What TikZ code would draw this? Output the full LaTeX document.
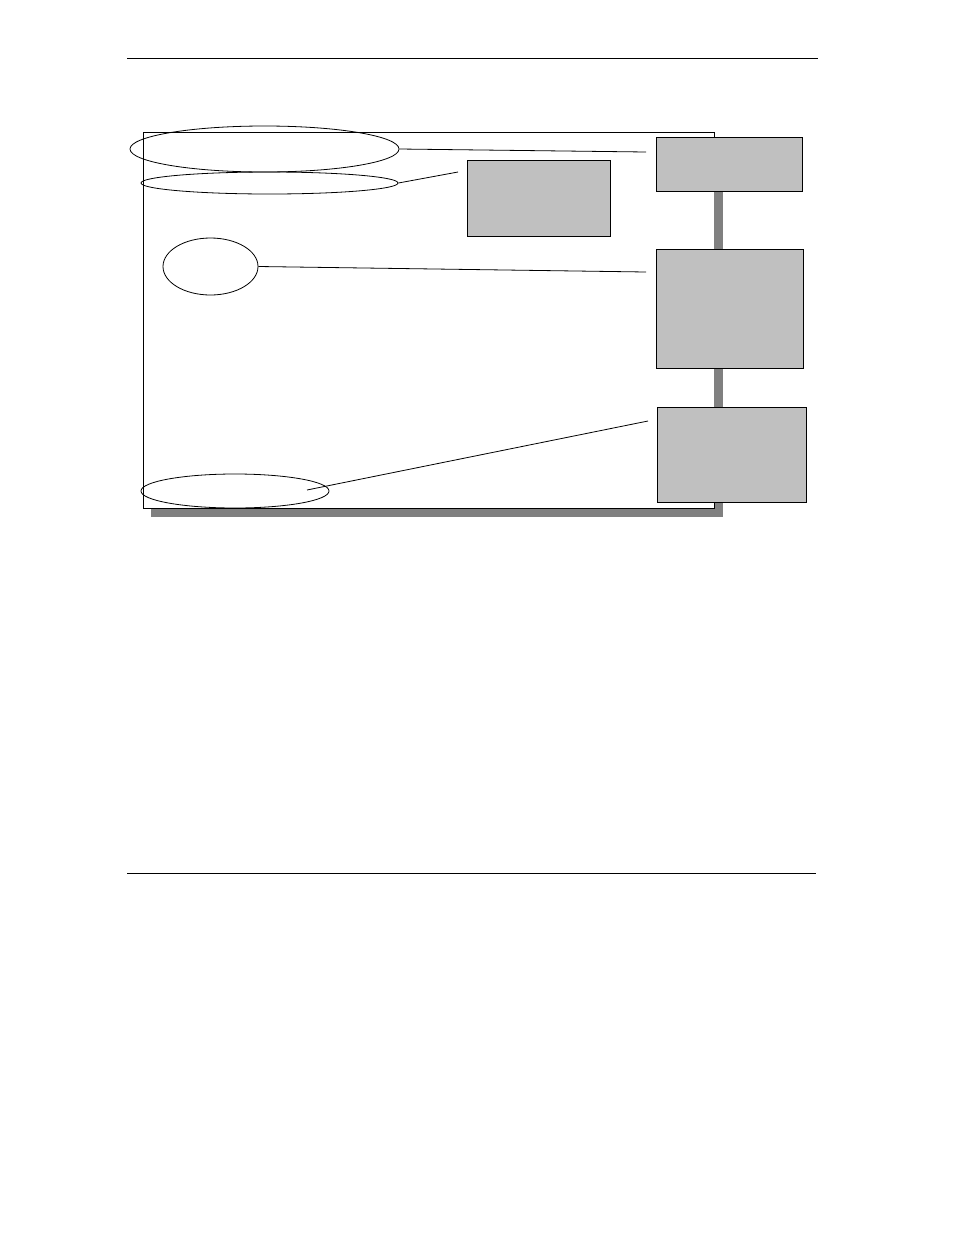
\documentclass[tikz,border=0pt]{standalone}
\usetikzlibrary{shapes.geometric}
\definecolor{boxgray}{HTML}{C0C0C0}
\definecolor{shadowgray}{HTML}{808080}
\tikzset{
  ell/.style={draw=black, ellipse, inner sep=0pt, line width=0.8pt},
  graybox/.style={draw=black, fill=boxgray, rectangle, inner sep=0pt, line width=0.8pt, anchor=north west},
  leader/.style={draw=black, line width=0.8pt},
  rule/.style={draw=black, line width=0.8pt}
}
\begin{document}
\begin{tikzpicture}[x={(1pt,0)}, y={(0,-1pt)}]
\useasboundingbox[fill=white] (0,0) rectangle (954,1235);
% header and footer rules
\coordinate (hl) at (127,58); \coordinate (hr) at (818,58);
\coordinate (fl) at (127,873); \coordinate (fr) at (816,873);
\draw[rule] (hl) -- (hr);
\draw[rule] (fl) -- (fr);
% frame shadow and frame
\fill[shadowgray] (151,141) rectangle (723,517);
\draw[fill=white, line width=0.8pt] (143,132) rectangle (714,508);
% gray bar behind the boxes
\fill[shadowgray] (714,180) rectangle (723,420);
% boxes
\node[graybox, minimum width=146pt, minimum height=54pt] (b1) at (656,137) {};
\node[graybox, minimum width=147pt, minimum height=119pt] (b2) at (656,249) {};
\node[graybox, minimum width=149pt, minimum height=95pt] (b3) at (657,407) {};
\node[graybox, minimum width=143pt, minimum height=76pt] (bs) at (467,160) {};
% ellipses
\node[ell, minimum width=269pt, minimum height=46pt] (e1) at (264.5,149) {};
\node[ell, minimum width=257pt, minimum height=22pt] (e2) at (269.5,183) {};
\node[ell, minimum width=95pt, minimum height=57pt] (e3) at (210.5,266.5) {};
\node[ell, minimum width=188pt, minimum height=34pt] (e4) at (235,491) {};
% leader ends
\coordinate (t1) at (646,152);
\coordinate (t2) at (458,172);
\coordinate (t3) at (646,272);
\coordinate (s4) at (307,490);
\coordinate (t4) at (648,421);
\draw[leader] (e1.east) -- (t1);
\draw[leader] (e2.east) -- (t2);
\draw[leader] (e3.east) -- (t3);
\draw[leader] (s4) -- (t4);
\end{tikzpicture}
\end{document}
